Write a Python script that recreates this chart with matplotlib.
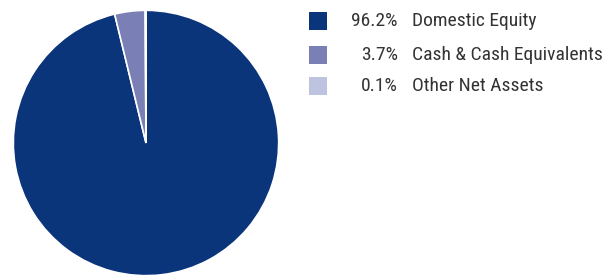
import matplotlib.pyplot as plt
from matplotlib.patches import Rectangle
from matplotlib import font_manager

labels = ['Domestic Equity', 'Cash & Cash Equivalents', 'Other Net Assets']
values = [96.2, 3.7, 0.1]
colors = ['#0B357A', '#7A80B5', '#BEC3E0']

W, H = 608, 280
fig = plt.figure(figsize=(W / 100, H / 100), dpi=100)

# pie axes, in pixels: centre (146,143), radius ~134
ax = fig.add_axes([12 / W, 1 - 277 / H, 268 / W, 268 / H])
ax.pie(values, colors=colors, startangle=90, counterclock=False, radius=1,
       wedgeprops=dict(edgecolor='white', linewidth=1.2))
ax.set_xlim(-1.01, 1.01)
ax.set_ylim(-1.01, 1.01)
ax.set_aspect('equal')

# a narrow face if one is around, else Lato a bit smaller
names = {f.name for f in font_manager.fontManager.ttflist}
fnt, stretch, size = ['Lato', 'DejaVu Sans'], 'normal', 12.5
for cand in ['Roboto Condensed', 'Liberation Sans Narrow', 'Open Sans Condensed']:
    if cand in names:
        fnt, size = [cand, 'DejaVu Sans'], 14
        break

row_y = [21, 55, 86]
for i, (lab, val) in enumerate(zip(labels, values)):
    y = 1 - row_y[i] / H
    fig.patches.append(Rectangle((309 / W, y - 9 / H), 18 / W, 18 / H,
                                 transform=fig.transFigure, facecolor=colors[i],
                                 edgecolor='none'))
    fig.text(398 / W, y, f'{val:.1f}%', ha='right', va='center',
             fontsize=size, color='#333333', family=fnt)
    fig.text(412 / W, y, lab, ha='left', va='center',
             fontsize=size, color='#333333', family=fnt)

fig.savefig('out.png', dpi=100)
